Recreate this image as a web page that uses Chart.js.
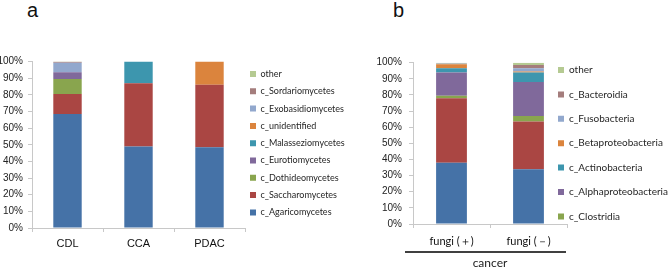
<!DOCTYPE html>
<html>
<head>
<meta charset="utf-8">
<script src="https://cdn.jsdelivr.net/npm/chart.js@4"></script>
<style>
  body { margin: 0; background: #fff; }
  #wrap { position: relative; width: 669px; height: 269px; overflow: hidden; }
  #chartA { position: absolute; left: 0; top: 0; }
  #chartB { position: absolute; left: 360px; top: 0; }
  .tag { position: absolute; top: 0; font: 20px/20px "Liberation Sans", Arial, sans-serif; color: #111; }
</style>
</head>
<body>
<div id="wrap">
  <div class="tag" style="left:27px">a</div>
  <div class="tag" style="left:393px">b</div>
  <canvas id="chartA" width="360" height="269"></canvas>
  <canvas id="chartB" width="309" height="269"></canvas>
</div>
<script>
// панель a: грибковые классы по группам (%)
const groupsA = ['CDL', 'CCA', 'PDAC'];
const classesA = ['c_Agaricomycetes', 'c_Saccharomycetes', 'c_Dothideomycetes', 'c_Eurotiomycetes',
    'c_Malasseziomycetes', 'c_unidentified', 'c_Exobasidiomycetes', 'c_Sordariomycetes', 'other'];
const agaricomycetes = [68.5, 49, 48.5];
const saccharomycetes = [12, 38, 37.5];
const dothideomycetes = [9, 0, 0];
const eurotiomycetes = [4, 0, 0];
const malasseziomycetes = [0, 13, 0];
const unidentified = [0, 0, 14];
const exobasidiomycetes = [5.8, 0, 0];
const sordariomycetes = [0.5, 0, 0];
const otherA = [0.2, 0, 0];

// панель b: бактериальные классы, fungi(+) / fungi(-)
const groupsB = ['fungi (＋)', 'fungi (－)'];
const classesB = ['c_Gammaproteobacteria', 'c_Bacilli', 'c_Clostridia', 'c_Alphaproteobacteria',
    'c_Actinobacteria', 'c_Betaproteobacteria', 'c_Fusobacteria', 'c_Bacteroidia', 'other'];
const gammaproteobacteria = [38, 34];
const bacilli = [40, 29.5];
const clostridia = [1.5, 3.5];
const alphaproteobacteria = [14.5, 21];
const actinobacteria = [2.5, 6];
const betaproteobacteria = [2.5, 0.5];
const fusobacteria = [0.3, 2];
const bacteroidia = [0.2, 2];
const otherB = [0.5, 1.5];

const yTicks = [0, 10, 20, 30, 40, 50, 60, 70, 80, 90, 100];

const palette = ['#4572A7', '#AA4643', '#89A54E', '#80699B', '#3D96AE', '#DB843D', '#92A8CD', '#A47D7C', '#B5CA92'];

const seriesA = [agaricomycetes, saccharomycetes, dothideomycetes, eurotiomycetes,
    malasseziomycetes, unidentified, exobasidiomycetes, sordariomycetes, otherA];
const seriesB = [gammaproteobacteria, bacilli, clostridia, alphaproteobacteria,
    actinobacteria, betaproteobacteria, fusobacteria, bacteroidia, otherB];

// легенда ставится в заданную точку после раскладки
const legendSpot = {
    id: 'legendSpot',
    afterLayout(chart, args, opts) {
        const lg = chart.legend;
        const pad = lg.options.labels.padding;
        const fs = lg.options.labels.font.size;
        lg.left = opts.x - pad;
        lg.right = chart.width;
        lg.width = lg.right - lg.left;
        lg.top = opts.y - fs / 2 - pad;
        lg.bottom = chart.height;
        lg.height = lg.bottom - lg.top;
    }
};

const underline = {
    id: 'underline',
    afterDraw(chart, args, opts) {
        if (!opts.show) return;
        const { ctx, chartArea } = chart;
        ctx.save();
        ctx.strokeStyle = '#000';
        ctx.lineWidth = 1.5;
        ctx.beginPath();
        ctx.moveTo(chartArea.left - 8, chartArea.bottom + 28);
        ctx.lineTo(chartArea.right - 1, chartArea.bottom + 28);
        ctx.stroke();
        ctx.restore();
    }
};

function makeDatasets(names, series) {
    return names.map((name, i) => ({
        label: name,
        data: series[i],
        backgroundColor: palette[i],
        borderWidth: 0,
        barPercentage: 0.4,
        categoryPercentage: 1.0
    }));
}

function makeOptions(cfg) {
    return {
        responsive: false,
        animation: false,
        layout: { padding: { top: cfg.top, right: cfg.right, left: 0, bottom: 0 } },
        scales: {
            x: {
                stacked: true,
                afterFit: s => { s.height = cfg.xHeight; },
                grid: { drawOnChartArea: false, drawTicks: true, tickLength: 4, color: '#c8c8c8' },
                border: { color: '#c8c8c8' },
                ticks: { padding: cfg.xPad, color: '#111', font: cfg.xFont },
                title: cfg.xTitle || { display: false }
            },
            y: {
                stacked: true,
                min: 0,
                max: 100,
                afterFit: s => { s.width = cfg.yWidth; },
                afterBuildTicks: s => { s.ticks = yTicks.map(v => ({ value: v })); },
                grid: { drawOnChartArea: false, drawTicks: true, tickLength: 4, color: '#c8c8c8' },
                border: { color: '#c8c8c8' },
                ticks: {
                    padding: cfg.yPad,
                    color: '#222',
                    font: { family: 'Liberation Sans', size: 10 },
                    callback: v => v + '%'
                }
            }
        },
        plugins: {
            tooltip: { enabled: false },
            legend: {
                position: 'right',
                align: 'start',
                reverse: true,
                maxWidth: 30,
                labels: {
                    boxWidth: cfg.box,
                    boxHeight: cfg.box,
                    padding: cfg.legendPad,
                    textAlign: 'left',
                    color: '#262626',
                    font: cfg.legendFont,
                    filter: item => !cfg.hidden.includes(item.text)
                }
            },
            legendSpot: { x: cfg.legendX, y: cfg.legendY },
            underline: { show: !!cfg.underline }
        }
    };
}

new Chart(document.getElementById('chartA').getContext('2d'), {
    type: 'bar',
    data: { labels: groupsA, datasets: makeDatasets(classesA, seriesA) },
    options: makeOptions({
        top: 61.5, right: 85, xHeight: 41, yWidth: 32, xPad: 5, yPad: 5,
        xFont: { family: 'Liberation Sans', size: 11 },
        box: 6, legendPad: 8.3, legendFont: { family: 'Lato', size: 9 },
        legendX: 250, legendY: 74, hidden: []
    }),
    plugins: [legendSpot, underline]
});

new Chart(document.getElementById('chartB').getContext('2d'), {
    type: 'bar',
    data: { labels: groupsB, datasets: makeDatasets(classesB, seriesB) },
    options: makeOptions({
        top: 62.7, right: 72, xHeight: 45, yWidth: 53, xPad: 7, yPad: 7,
        xFont: { family: 'Lato', size: 11 },
        xTitle: { display: true, text: 'cancer', color: '#222', font: { family: 'Lato', size: 12, lineHeight: 1 }, padding: { top: 0, bottom: 0 } },
        box: 6, legendPad: 14.4, legendFont: { family: 'Lato', size: 10 },
        legendX: 198, legendY: 70, hidden: ['c_Gammaproteobacteria', 'c_Bacilli'],
        underline: true
    }),
    plugins: [legendSpot, underline]
});
</script>
</body>
</html>
